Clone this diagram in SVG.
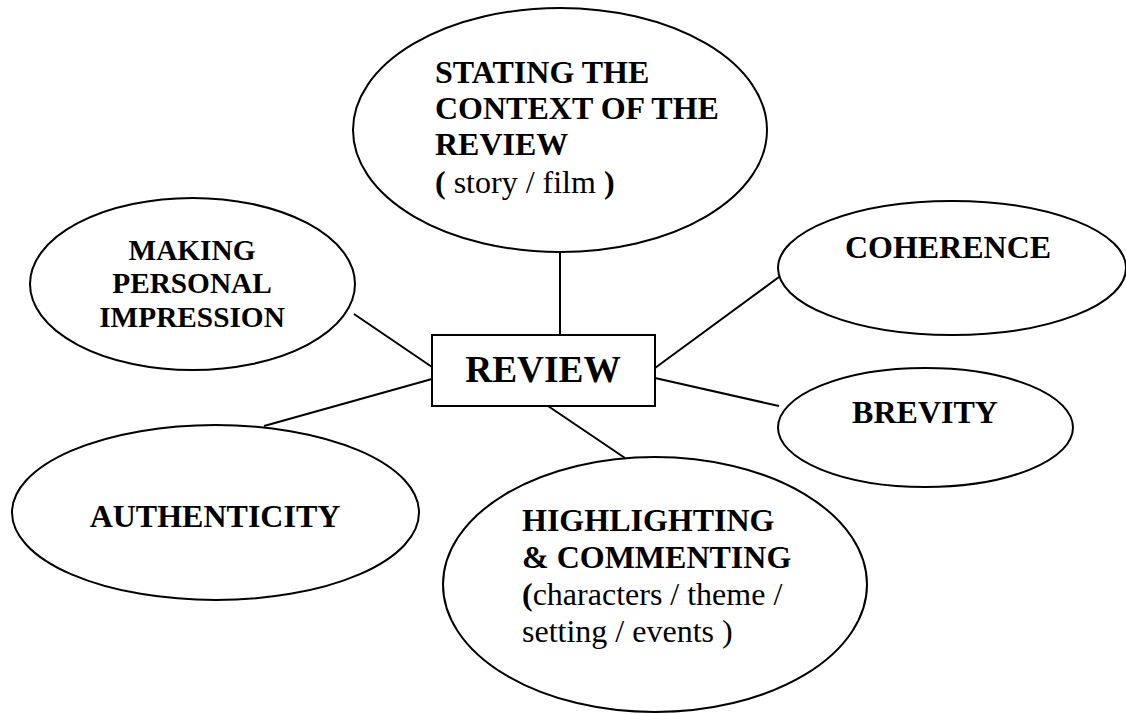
<svg xmlns="http://www.w3.org/2000/svg" width="1126" height="714" viewBox="0 0 1126 714">
  <style>
    .shape { fill: #ffffff; stroke: #000000; stroke-width: 2; }
    .link { stroke: #000000; stroke-width: 2; fill: none; }
    .t { font-family: "Liberation Serif", "Times New Roman", serif; fill: #000000; }
    .b { font-weight: bold; font-size: 32px; }
    .bs { font-weight: bold; font-size: 29.3px; }
    .r { font-weight: normal; font-size: 32px; }
    .hub { font-weight: bold; font-size: 37.3px; }
  </style>
  <rect width="1126" height="714" fill="#ffffff"/>

  <!-- spokes from the central box -->
  <g id="connectors">
    <line class="link" x1="560" y1="252" x2="560" y2="335"/>
    <line class="link" x1="354" y1="314" x2="432" y2="367"/>
    <line class="link" x1="264" y1="426" x2="432" y2="379"/>
    <line class="link" x1="655" y1="368" x2="779" y2="277"/>
    <line class="link" x1="655" y1="378" x2="779" y2="406"/>
    <line class="link" x1="548" y1="406" x2="625" y2="458"/>
  </g>

  <g id="context">
    <ellipse class="shape" cx="560" cy="130" rx="207" ry="122"/>
    <text class="t b" x="435" y="83">STATING THE</text>
    <text class="t b" x="435" y="119">CONTEXT OF THE</text>
    <text class="t b" x="435" y="155">REVIEW</text>
    <text class="t r" x="435" y="193"><tspan font-weight="bold">(</tspan> story / film <tspan font-weight="bold">)</tspan></text>
  </g>

  <g id="impression">
    <ellipse class="shape" cx="192.5" cy="284" rx="162.5" ry="86"/>
    <text class="t bs" x="192" y="260" text-anchor="middle">MAKING</text>
    <text class="t bs" x="192" y="293" text-anchor="middle">PERSONAL</text>
    <text class="t bs" x="192" y="327" text-anchor="middle">IMPRESSION</text>
  </g>

  <g id="coherence">
    <ellipse class="shape" cx="952" cy="268" rx="174" ry="67"/>
    <text class="t b" x="948" y="258" text-anchor="middle">COHERENCE</text>
  </g>

  <g id="review">
    <rect class="shape" x="432" y="335" width="223" height="71"/>
    <text class="t hub" x="543" y="382" text-anchor="middle">REVIEW</text>
  </g>

  <g id="brevity">
    <ellipse class="shape" cx="925.5" cy="427.5" rx="147.5" ry="59.5"/>
    <text class="t b" x="925" y="423" text-anchor="middle">BREVITY</text>
  </g>

  <g id="authenticity">
    <ellipse class="shape" cx="215.5" cy="512.5" rx="203.5" ry="87.5"/>
    <text class="t b" x="215" y="527" text-anchor="middle">AUTHENTICITY</text>
  </g>

  <g id="highlighting">
    <ellipse class="shape" cx="655" cy="584.5" rx="212" ry="127.5"/>
    <text class="t b" x="522" y="531">HIGHLIGHTING</text>
    <text class="t b" x="522" y="568">&amp; COMMENTING</text>
    <text class="t r" x="522" y="605"><tspan font-weight="bold">(</tspan>characters / theme /</text>
    <text class="t r" x="522" y="642">setting / events )</text>
  </g>
</svg>
